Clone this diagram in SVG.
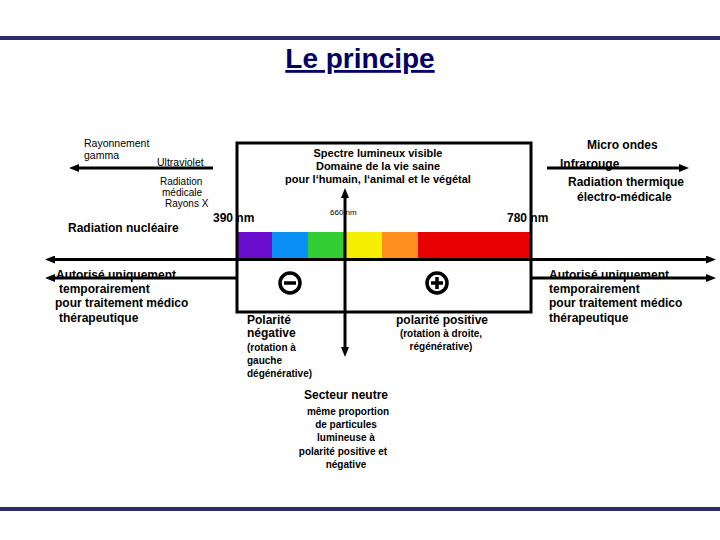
<svg xmlns="http://www.w3.org/2000/svg" width="720" height="540" viewBox="0 0 720 540">
<defs>
<style>
text{font-family:"Liberation Sans",Arial,sans-serif;fill:#000}
.b12{font-size:12px;font-weight:bold}
.b11{font-size:11px;font-weight:bold}
.b10{font-size:10px;font-weight:bold}
.r10{font-size:10.5px}
.r9{font-size:10px}
.mid{text-anchor:middle}
.ln{stroke:#000;stroke-width:3;fill:none}
.arr{stroke:#000;stroke-width:3;fill:none;marker-end:url(#ah)}
.sym{stroke:#000;stroke-width:3.5;fill:none}
</style>
<marker id="ah" markerUnits="userSpaceOnUse" viewBox="0 0 10 8" refX="3" refY="4" markerWidth="10" markerHeight="8" orient="auto">
<path d="M0,0 L10,4 L0,8 z" fill="#000"/>
</marker>
</defs>
<rect width="720" height="540" fill="#fff"/>
<rect x="0" y="36" width="720" height="4" fill="#2d2d6e"/>
<rect x="0" y="507" width="720" height="4" fill="#2d2d6e"/>
<text x="360" y="68" class="mid" style="font-size:28px;font-weight:bold;fill:#000066;text-decoration:underline">Le principe</text>

<g id="spectrum-box">
<rect x="237" y="232" width="35" height="26" fill="#6a0dcc"/>
<rect x="272" y="232" width="36" height="26" fill="#0a90f5"/>
<rect x="308" y="232" width="37" height="26" fill="#33cc33"/>
<rect x="345" y="232" width="37" height="26" fill="#f5ee00"/>
<rect x="382" y="232" width="36" height="26" fill="#ff9020"/>
<rect x="418" y="232" width="113" height="26" fill="#e60000"/>
<rect x="237" y="143" width="294" height="169" class="ln"/>
<line x1="237" y1="259.5" x2="531" y2="259.5" class="ln"/>
<text x="378" y="157" class="b11 mid">Spectre lumineux visible</text>
<text x="378" y="170" class="b11 mid">Domaine de la vie saine</text>
<text x="378" y="183" class="b11 mid">pour l‘humain, l‘animal et le végétal</text>
<text x="330" y="215" style="font-size:8px">660 nm</text>
</g>

<g id="connectors">
<line x1="213" y1="168" x2="76" y2="168" class="arr"/>
<line x1="547" y1="168" x2="682" y2="168" class="arr"/>
<line x1="237" y1="259.5" x2="52" y2="259.5" class="arr"/>
<line x1="237" y1="278" x2="52" y2="278" class="arr"/>
<line x1="531" y1="259.5" x2="709" y2="259.5" class="arr"/>
<line x1="531" y1="278" x2="709" y2="278" class="arr"/>
<line x1="345" y1="272" x2="345" y2="195" class="arr"/>
<line x1="345" y1="272" x2="345" y2="350" class="arr"/>
</g>

<g id="left-top">
<text x="84" y="147" class="r10">Rayonnement</text>
<text x="84" y="159" class="r10">gamma</text>
<text x="157" y="166" class="r10">Ultraviolet</text>
<text x="160" y="185" class="r9">Radiation</text>
<text x="162" y="196" class="r9">médicale</text>
<text x="165" y="207" class="r9">Rayons X</text>
<text x="68" y="232" class="b12">Radiation nucléaire</text>
</g>

<g id="wavelengths">
<text x="213" y="222" class="b12">390 nm</text>
<text x="507" y="222" class="b12">780 nm</text>
</g>

<g id="right-top">
<text x="587" y="149" class="b12">Micro ondes</text>
<text x="560" y="168" class="b12">Infrarouge</text>
<text x="568" y="186" class="b12">Radiation thermique</text>
<text x="577" y="201" class="b12">électro-médicale</text>
</g>

<g id="left-bottom">
<text x="56" y="279" class="b12">Autorisé uniquement</text>
<text x="59" y="293" class="b12">temporairement</text>
<text x="55" y="307" class="b12">pour traitement médico</text>
<text x="59" y="322" class="b12">thérapeutique</text>
</g>

<g id="right-bottom">
<text x="549" y="279" class="b12">Autorisé uniquement</text>
<text x="549" y="293" class="b12">temporairement</text>
<text x="549" y="307" class="b12">pour traitement médico</text>
<text x="549" y="322" class="b12">thérapeutique</text>
</g>

<g id="negative">
<circle cx="290" cy="283" r="10" class="sym"/>
<line x1="284" y1="283" x2="296" y2="283" class="sym"/>
<text x="247" y="324" class="b12">Polarité</text>
<text x="247" y="337" class="b12">négative</text>
<text x="247" y="351" class="b10">(rotation à</text>
<text x="247" y="364" class="b10">gauche</text>
<text x="247" y="377" class="b10">dégénérative)</text>
</g>

<g id="positive">
<circle cx="437" cy="283" r="10" class="sym"/>
<line x1="431" y1="283" x2="443" y2="283" class="sym"/>
<line x1="437" y1="277" x2="437" y2="289" class="sym"/>
<text x="396" y="324" class="b12">polarité positive</text>
<text x="441" y="337" class="b10 mid">(rotation à droite,</text>
<text x="441" y="350" class="b10 mid">régénérative)</text>
</g>

<g id="neutral">
<text x="346" y="399" class="b12 mid">Secteur neutre</text>
<text x="348" y="415" class="b10 mid">même proportion</text>
<text x="346" y="428" class="b10 mid">de particules</text>
<text x="346" y="441" class="b10 mid">lumineuse à</text>
<text x="343" y="455" class="b10 mid">polarité positive et</text>
<text x="346" y="468" class="b10 mid">négative</text>
</g>
</svg>
